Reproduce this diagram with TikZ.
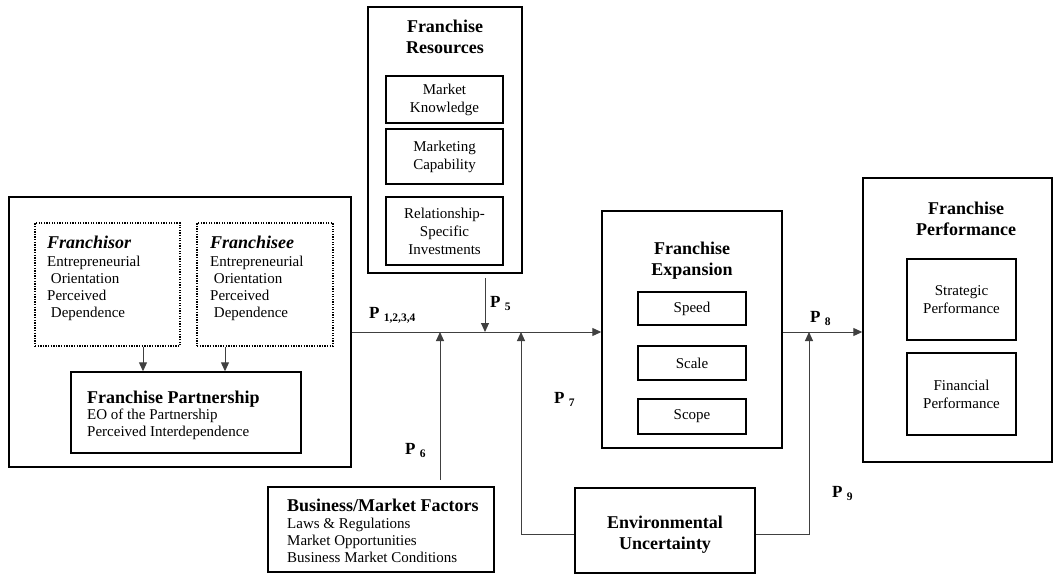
\documentclass[tikz,border=0pt]{standalone}
\usepackage{fontspec}
\setmainfont{Liberation Serif}
\usetikzlibrary{arrows.meta,calc}
\tikzset{
 box/.style={draw=black, line width=1.4pt, inner sep=0pt},
 dotbox/.style={draw=black, line width=1.4pt, dash pattern=on 1.3pt off 1.3pt, inner sep=0pt},
 sub/.style={draw=black, line width=1.4pt, inner sep=0pt, align=center, font=\fontsize{15}{18}\selectfont},
 title/.style={inner sep=0pt, align=center, font=\fontsize{18}{21}\selectfont\bfseries},
 body/.style={inner sep=0pt, align=left, font=\fontsize{15}{17}\selectfont},
 conn/.style={draw=black!75, line width=1pt},
 arr/.style={conn, -{Triangle[length=9pt,width=8pt]}},
 plab/.style={inner sep=0pt, anchor=base west, font=\fontsize{17}{17}\selectfont\bfseries},
}
\newcommand\psub[1]{P\ \raisebox{-3.5pt}{\fontsize{11.5}{11.5}\selectfont #1}}
\begin{document}
\begin{tikzpicture}[x=1pt,y=-1pt]
\useasboundingbox (0,0) rectangle (1055,576);
% left block
\node[box, minimum width=342pt, minimum height=270pt] (left) at (180,332) {};
\node[dotbox, minimum width=145pt, minimum height=123pt] (fsor) at (107.5,284.5) {};
\node[dotbox, minimum width=136pt, minimum height=123pt] (fsee) at (265,284.5) {};
\node[box, minimum width=230pt, minimum height=81pt] (fp) at (186,412.5) {};
\node[body, anchor=north west] (fsort) at (47,236) {{\fontsize{18}{18}\selectfont\bfseries\itshape Franchisor}\\[1pt] Entrepreneurial\\ \ Orientation\\ Perceived\\ \ Dependence};
\node[body, anchor=north west] (fseet) at (210,236) {{\fontsize{18}{18}\selectfont\bfseries\itshape Franchisee}\\[1pt] Entrepreneurial\\ \ Orientation\\ Perceived\\ \ Dependence};
\node[body, anchor=north west] (fpt) at (87,391) {{\fontsize{18}{18}\selectfont\bfseries Franchise Partnership}\\[-1pt] EO of the Partnership\\ Perceived Interdependence};
\coordinate (a1) at (143,0);
\coordinate (a2) at (225,0);
\draw[arr] (fsor.south -| a1) -- (fp.north -| a1);
\draw[arr] (fsee.south -| a2) -- (fp.north -| a2);
% resources
\node[box, minimum width=154pt, minimum height=266pt] (res) at (445,140) {};
\node[title, anchor=north] (rest) at (445,19.7) {Franchise\\Resources};
\node[sub, minimum width=117pt, minimum height=47pt] (mk) at (444.5,99.5) {Market\\Knowledge};
\node[sub, minimum width=117pt, minimum height=55pt] (mc) at (444.5,156.5) {Marketing\\Capability};
\node[sub, minimum width=117pt, minimum height=68pt] (rsi) at (444.5,231) {Relationship-\\Specific\\Investments};
% expansion
\node[box, minimum width=180pt, minimum height=237pt] (exp) at (692,329.5) {};
\node[title, anchor=north] (expt) at (692,241.7) {Franchise\\Expansion};
\node[sub, minimum width=108pt, minimum height=33pt] (speed) at (692,308.5) {Speed};
\node[sub, minimum width=108pt, minimum height=34pt] (scale) at (692,363) {Scale};
\node[sub, minimum width=108pt, minimum height=35pt] (scope) at (692,416.5) {Scope};
% performance
\node[box, minimum width=189pt, minimum height=284pt] (perf) at (957.5,320) {};
\node[title, anchor=north] (perft) at (966,201.7) {Franchise\\Performance};
\node[sub, minimum width=109pt, minimum height=81pt] (strat) at (961.5,299.5) {Strategic\\Performance};
\node[sub, minimum width=109pt, minimum height=82pt] (fin) at (961.5,394) {Financial\\Performance};
% business / market factors
\node[box, minimum width=226pt, minimum height=85pt] (bus) at (381,529.5) {};
\node[body, anchor=north west] (bust) at (287,498.7) {{\fontsize{18}{18}\selectfont\bfseries Business/Market Factors}\\ Laws \& Regulations\\ Market Opportunities\\ Business Market Conditions};
% environmental uncertainty
\node[box, minimum width=180pt, minimum height=85pt] (env) at (665,530.5) {};
\node[title, anchor=north] (envt) at (665,515.7) {Environmental\\Uncertainty};
% connectors
\draw[arr] (left.east) -- (left.east -| exp.west);
\draw[arr] (exp.east |- left.east) -- (perf.west |- left.east);
\coordinate (x5) at (485,278);
\draw[arr] (x5) -- (x5 |- left.east);
\coordinate (x6) at (440,480);
\draw[arr] (x6) -- (x6 |- left.east);
\coordinate (y7) at (521,534);
\draw[arr] (env.west |- y7) -- (y7) -- (y7 |- left.east);
\coordinate (x9) at (809,534);
\draw[arr] (env.east |- x9) -- (x9) -- (x9 |- left.east);
% labels
\node[plab] (p1) at (369,318) {\psub{1,2,3,4}};
\node[plab] (p5) at (490,307) {\psub{5}};
\node[plab] (p6) at (405,454) {\psub{6}};
\node[plab] (p7) at (554,403) {\psub{7}};
\node[plab] (p8) at (810,322) {\psub{8}};
\node[plab] (p9) at (832,497) {\psub{9}};
\end{tikzpicture}
\end{document}
